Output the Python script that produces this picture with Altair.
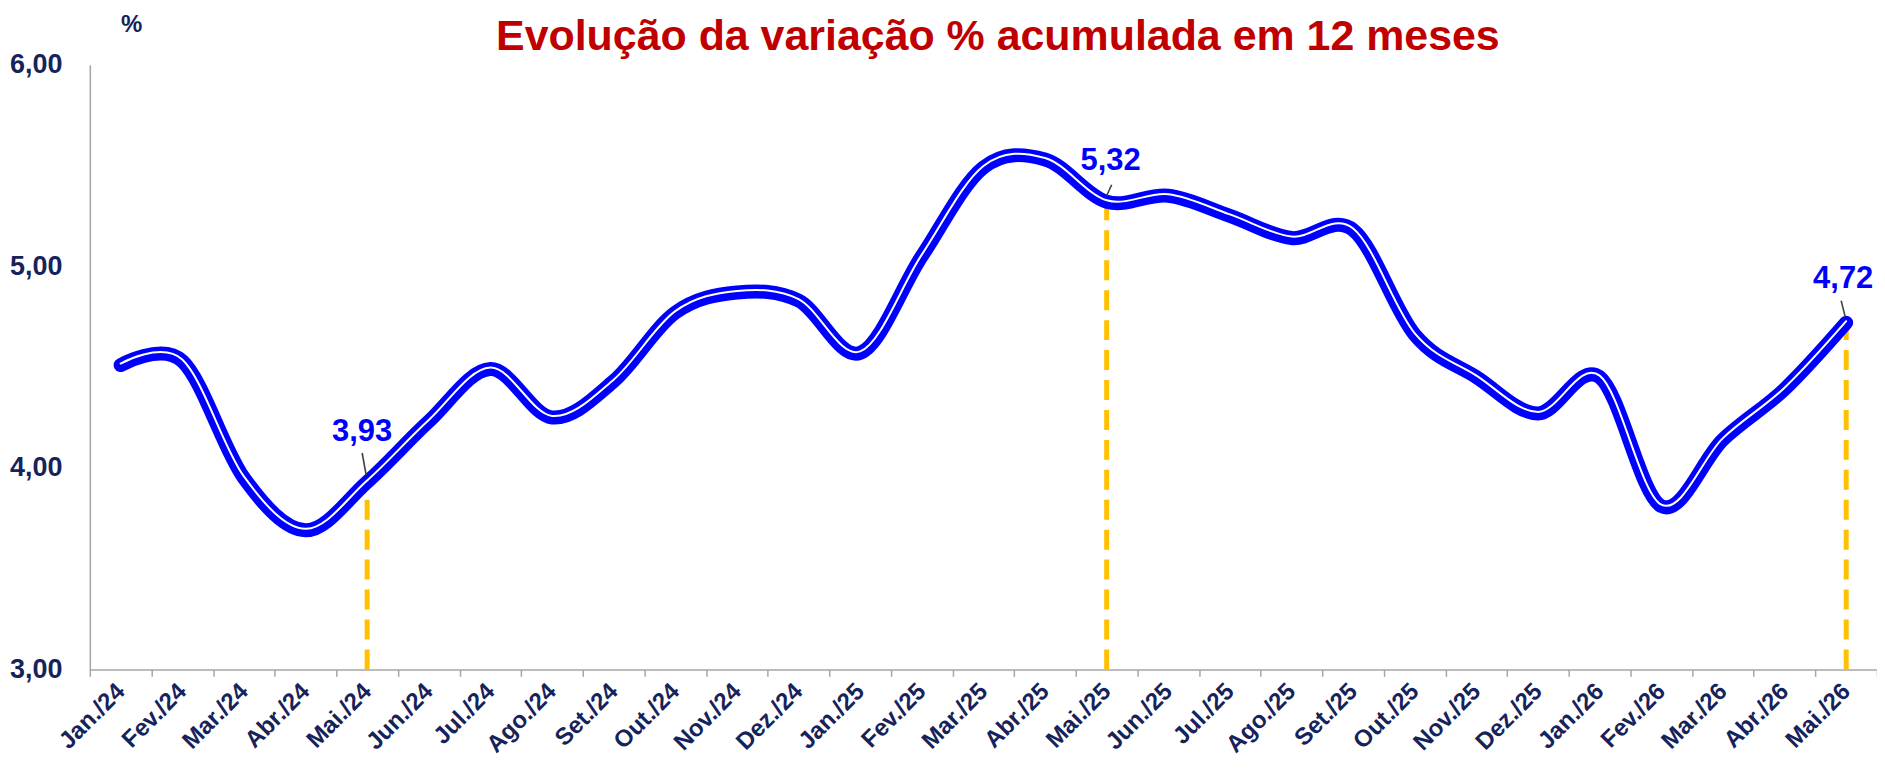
import altair as alt
import pandas as pd

# ---------------- data ----------------
months = [
    "Jan./24", "Fev./24", "Mar./24", "Abr./24", "Mai./24", "Jun./24", "Jul./24",
    "Ago./24", "Set./24", "Out./24", "Nov./24", "Dez./24",
    "Jan./25", "Fev./25", "Mar./25", "Abr./25", "Mai./25", "Jun./25", "Jul./25",
    "Ago./25", "Set./25", "Out./25", "Nov./25", "Dez./25",
    "Jan./26", "Fev./26", "Mar./26", "Abr./26", "Mai./26",
]
values = [
    4.51, 4.53, 3.95, 3.69, 3.93, 4.23, 4.49, 4.25, 4.43, 4.77, 4.87, 4.83,
    4.57, 5.05, 5.49, 5.53, 5.32, 5.35, 5.25, 5.14, 5.18, 4.66, 4.45, 4.27,
    4.45, 3.81, 4.14, 4.39, 4.72,
]
highlight_months = ["Mai./24", "Mai./25", "Mai./26"]
highlight_labels = ["3,93", "5,32", "4,72"]
y_ticks = [3, 4, 5, 6]
TITLE = "Evolução da variação % acumulada em 12 meses"
UNIT = "%"

# ---------------- styles ----------------
FONT = "Liberation Sans, Arial, sans-serif"
NAVY = "#16235a"
BLUE = "#0000FF"
RED = "#C00000"
GOLD = "#FFC000"
GREY = "#A6A6A6"
label_dx = [-5, 4, -3]
label_dy = [-50, -41, -44]
leader_x = [(-5, -1), (5, 0), (-5, -1)]
leader_y = [(-29, -7), (-17, -6), (-22, -6)]

df = pd.DataFrame({"mes": months, "valor": values})
hl = pd.DataFrame({
    "mes": highlight_months,
    "rotulo": highlight_labels,
    "valor": [values[months.index(m)] for m in highlight_months],
})
hl["base"] = min(y_ticks)

x_scale = alt.Scale(type="band", domain=months, paddingInner=0, paddingOuter=0)
y_scale = alt.Scale(domain=[min(y_ticks), max(y_ticks)], nice=False, zero=False)

x_axis = alt.Axis(
    title=None, grid=False, domainColor=GREY, domainWidth=1.5,
    ticks=True, tickBand="extent", tickColor=GREY, tickWidth=1.5, tickSize=7,
    labelAngle=-45, labelAlign="right", labelBaseline="middle", labelPadding=11,
    labelFont=FONT, labelFontSize=24, labelFontWeight="bold", labelColor=NAVY,
    labelOverlap=False, labelBound=False,
)
y_axis = alt.Axis(
    title=None, grid=False, domainColor=GREY, domainWidth=1.5,
    ticks=False, tickSize=0, values=y_ticks,
    labelExpr="replace(format(datum.value, '.2f'), '.', ',')",
    labelFont=FONT, labelFontSize=27, labelFontWeight="bold", labelColor=NAVY,
    labelPadding=28, labelBaseline="middle",
)

X = alt.X("mes:N", sort=months, scale=x_scale, axis=x_axis, bandPosition=0.5)
Y = alt.Y("valor:Q", scale=y_scale, axis=y_axis)

base = alt.Chart(df)

dashes = alt.Chart(hl).mark_rule(color=GOLD, strokeWidth=5, strokeDash=[20, 10]).encode(
    x=X, y=alt.Y("base:Q", scale=y_scale, axis=y_axis), y2="valor:Q"
)

line_blue = base.mark_line(
    color=BLUE, strokeWidth=14, interpolate="cardinal", strokeCap="round", strokeJoin="round"
).encode(x=X, y=Y)
line_white = base.mark_line(
    color="white", strokeWidth=2, interpolate="cardinal", strokeCap="round",
    strokeJoin="round", yOffset=-1.5,
).encode(x=X, y=Y)

layers = [dashes, line_blue, line_white]

for i in range(len(highlight_months)):
    sub = alt.Chart(hl.iloc[[i]])
    layers.append(
        sub.mark_rule(
            color="#404040", strokeWidth=1.6,
            xOffset=leader_x[i][0], x2Offset=leader_x[i][1],
            yOffset=leader_y[i][0], y2Offset=leader_y[i][1],
        ).encode(x=X, x2=alt.X2("mes"), y=Y, y2=alt.Y2("valor"))
    )
    layers.append(
        sub.mark_text(
            font=FONT, fontSize=31, fontWeight="bold", color=BLUE,
            dx=label_dx[i], dy=label_dy[i], baseline="middle", align="center",
        ).encode(x=X, y=Y, text="rotulo:N")
    )

title_layer = alt.Chart(pd.DataFrame({"t": [TITLE]})).mark_text(
    font=FONT, fontSize=43, fontWeight="bold", color=RED, align="center", baseline="alphabetic"
).encode(text="t:N", x=alt.value(910), y=alt.value(-15))

unit_layer = alt.Chart(pd.DataFrame({"t": [UNIT]})).mark_text(
    font=FONT, fontSize=24, fontWeight="bold", color=NAVY, align="center", baseline="middle"
).encode(text="t:N", x=alt.value(42), y=alt.value(-40))

layers += [title_layer, unit_layer]

chart = alt.layer(*layers).properties(
    width=1791, height=606,
    padding={"left": 82, "top": 56, "right": 0, "bottom": 90},
    autosize=alt.AutoSizeParams(type="none"),
    background="white",
).configure_view(stroke=None)

chart.save("out.html", embed_options={"renderer": "svg", "actions": False})
